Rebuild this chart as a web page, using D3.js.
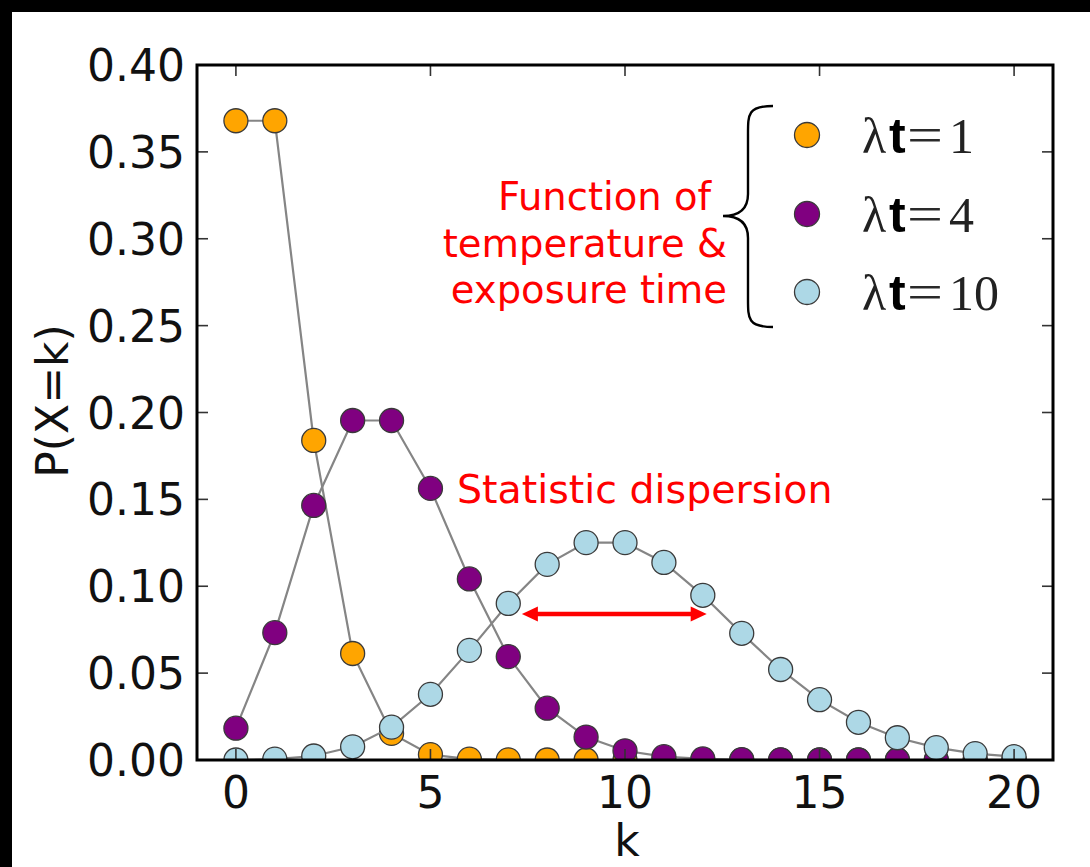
<!DOCTYPE html>
<html>
<head>
<meta charset="utf-8">
<script src="https://cdn.jsdelivr.net/npm/d3@7"></script>
<style>
  html, body { margin: 0; padding: 0; background: #000; }
  svg { display: block; }
</style>
</head>
<body>
<svg id="chart" width="1090" height="867"></svg>
<script>
// Poisson probabilities P(X=k) for k = 0..20
const kValues = [0,1,2,3,4,5,6,7,8,9,10,11,12,13,14,15,16,17,18,19,20];
const pLambda1 = [0.3679,0.3679,0.1839,0.0613,0.0153,0.0031,0.0005,0.0001,0,0,0,0,0,0,0,0,0,0,0,0,0];
const pLambda4 = [0.0183,0.0733,0.1465,0.1954,0.1954,0.1563,0.1042,0.0595,0.0298,0.0132,0.0053,0.0019,0.0006,0.0002,0.0001,0,0,0,0,0,0];
const pLambda10 = [0.0000,0.0005,0.0023,0.0076,0.0189,0.0378,0.0631,0.0901,0.1126,0.1251,0.1251,0.1137,0.0948,0.0729,0.0521,0.0347,0.0217,0.0128,0.0071,0.0037,0.0019];
const lambdaLabels = ["1", "4", "10"];
const seriesColors = ["#ffa500", "#800080", "#add8e6"];
const xTicks = [0, 5, 10, 15, 20];
const yTicks = [0, 0.05, 0.10, 0.15, 0.20, 0.25, 0.30, 0.35, 0.40];
const noteLines = ["Function of", "temperature &", "exposure time"];
const dispersionLabel = "Statistic dispersion";
const dispersionRange = [7.35, 12.1];  // k span of the dispersion arrow
const dispersionLevel = 0.084;         // height of the arrow in P units

const series = [pLambda1, pLambda4, pLambda10];

(function draw() {
  const svg = d3.select("#chart");
  // white canvas inside a thin black border on the top and left
  svg.append("rect").attr("x", 12).attr("y", 12).attr("width", 1078).attr("height", 855).attr("fill", "#fff");

  const pLeft = 197, pRight = 1053, pTop = 65, pBottom = 760;
  const x = d3.scaleLinear().domain([-1, 21]).range([pLeft, pRight]);
  const y = d3.scaleLinear().domain([0, 0.40]).range([pBottom, pTop]);

  svg.append("defs").append("clipPath").attr("id", "plotclip")
    .append("rect").attr("x", pLeft).attr("y", pTop).attr("width", pRight - pLeft).attr("height", pBottom - pTop);

  const plot = svg.append("g").attr("clip-path", "url(#plotclip)");
  const line = d3.line().x((d, i) => x(kValues[i])).y(d => y(d));

  series.forEach((vals, si) => {
    const g = plot.append("g");
    g.append("path").datum(vals).attr("d", line)
      .attr("fill", "none").attr("stroke", "#858585").attr("stroke-width", 2.2);
    g.selectAll("circle").data(vals).join("circle")
      .attr("cx", (d, i) => x(kValues[i])).attr("cy", d => y(d)).attr("r", 12)
      .attr("fill", seriesColors[si]).attr("stroke", "#3a3a3a").attr("stroke-width", 1.3);
  });

  // ticks pointing into the axes, on all four sides
  const tickLen = 11;
  const ticks = svg.append("g").attr("stroke", "#333").attr("stroke-width", 1.6);
  xTicks.forEach(t => {
    ticks.append("line").attr("x1", x(t)).attr("x2", x(t)).attr("y1", pBottom).attr("y2", pBottom - tickLen);
    ticks.append("line").attr("x1", x(t)).attr("x2", x(t)).attr("y1", pTop).attr("y2", pTop + tickLen);
  });
  yTicks.forEach(t => {
    ticks.append("line").attr("x1", pLeft).attr("x2", pLeft + tickLen).attr("y1", y(t)).attr("y2", y(t));
    ticks.append("line").attr("x1", pRight).attr("x2", pRight - tickLen).attr("y1", y(t)).attr("y2", y(t));
  });

  // axes frame
  svg.append("rect").attr("x", pLeft).attr("y", pTop).attr("width", pRight - pLeft).attr("height", pBottom - pTop)
    .attr("fill", "none").attr("stroke", "#000").attr("stroke-width", 3);

  const fontSans = "'DejaVu Sans', Verdana, sans-serif";
  svg.append("g").selectAll("text").data(xTicks).join("text")
    .attr("x", d => x(d)).attr("y", 808).attr("text-anchor", "middle")
    .attr("font-family", fontSans).attr("font-size", 44).attr("fill", "#111")
    .text(d => d);
  svg.append("g").selectAll("text").data(yTicks).join("text")
    .attr("x", 185).attr("y", d => y(d) + 16).attr("text-anchor", "end")
    .attr("font-family", fontSans).attr("font-size", 44).attr("fill", "#111")
    .text(d => d3.format(".2f")(d));

  svg.append("text").attr("x", 627).attr("y", 856).attr("text-anchor", "middle")
    .attr("font-family", fontSans).attr("font-size", 44).attr("fill", "#111").text("k");
  svg.append("text").attr("transform", "translate(68,401) rotate(-90)").attr("text-anchor", "middle")
    .attr("font-family", fontSans).attr("font-size", 44).attr("fill", "#111").text("P(X=k)");

  // legend: marker, then "λt=<value>" set piece by piece
  const legendY = [135, 214, 292];
  const serif = "'Liberation Serif', 'DejaVu Serif', serif";
  lambdaLabels.forEach((lab, i) => {
    const cy = legendY[i], base = cy + 18;
    svg.append("circle").attr("cx", 807).attr("cy", cy).attr("r", 12.5)
      .attr("fill", seriesColors[i]).attr("stroke", "#3a3a3a").attr("stroke-width", 1.3);
    svg.append("text").attr("x", 862).attr("y", base)
      .attr("font-family", serif).attr("font-size", 50).attr("fill", "#222").text("λ");
    svg.append("text").attr("x", 889).attr("y", base)
      .attr("font-family", "'Liberation Sans', Arial, sans-serif").attr("font-weight", "bold")
      .attr("font-size", 50).attr("fill", "#000").text("t");
    svg.append("text").attr("x", 907).attr("y", base - 1)
      .attr("font-family", serif).attr("font-size", 50).attr("fill", "#2a2a2a")
      .attr("textLength", 36).attr("lengthAdjust", "spacingAndGlyphs").text("=");
    svg.append("text").attr("x", 949).attr("y", base)
      .attr("font-family", serif).attr("font-size", 50).attr("fill", "#222").text(lab);
  });

  // curly brace grouping the legend
  const bx = 773, btop = 106, bmid = 216, bbot = 327, bdepth = 25;
  const brace = `M${bx},${btop} C${bx - bdepth},${btop} ${bx - bdepth},${btop + 8} ${bx - bdepth},${btop + 28}
    L${bx - bdepth},${bmid - 22} C${bx - bdepth},${bmid - 6} ${bx - bdepth - 10},${bmid} ${bx - 2 * bdepth},${bmid}
    C${bx - bdepth - 10},${bmid} ${bx - bdepth},${bmid + 6} ${bx - bdepth},${bmid + 22}
    L${bx - bdepth},${bbot - 28} C${bx - bdepth},${bbot - 8} ${bx - bdepth},${bbot} ${bx},${bbot}`;
  svg.append("path").attr("d", brace).attr("fill", "none").attr("stroke", "#000").attr("stroke-width", 2.4);

  // red annotations
  const noteX = [711, 727, 727];
  noteLines.forEach((s, i) => {
    svg.append("text").attr("x", noteX[i]).attr("y", 210 + i * 46.5).attr("text-anchor", "end")
      .attr("font-family", fontSans).attr("font-size", 38.5).attr("fill", "#ff0000").text(s);
  });
  svg.append("text").attr("x", 457).attr("y", 503)
    .attr("font-family", fontSans).attr("font-size", 39.5).attr("fill", "#ff0000").text(dispersionLabel);

  const ax1 = x(dispersionRange[0]), ax2 = x(dispersionRange[1]), ay = y(dispersionLevel);
  const head = 16, hw = 7.5;
  const arrow = svg.append("g").attr("fill", "#ff0000");
  arrow.append("line").attr("x1", ax1 + head - 2).attr("x2", ax2 - head + 2).attr("y1", ay).attr("y2", ay)
    .attr("stroke", "#ff0000").attr("stroke-width", 4.5);
  arrow.append("path").attr("d", `M${ax1},${ay} L${ax1 + head},${ay - hw} L${ax1 + head},${ay + hw} Z`);
  arrow.append("path").attr("d", `M${ax2},${ay} L${ax2 - head},${ay - hw} L${ax2 - head},${ay + hw} Z`);
})();
</script>
</body>
</html>
